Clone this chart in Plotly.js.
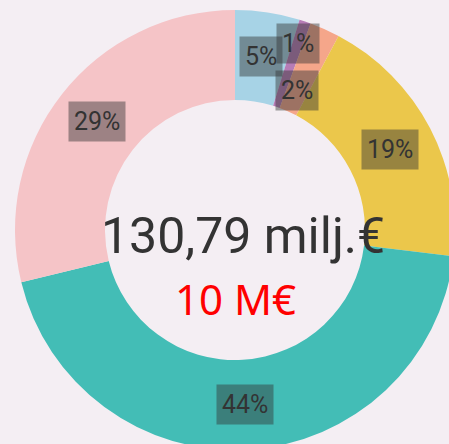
<!DOCTYPE html>
<html>
<head>
<meta charset="utf-8">
<script src="https://cdn.plot.ly/plotly-3.0.1.min.js"></script>
<style>
html,body{margin:0;padding:0;overflow:hidden;background:#f4eef3;}
#chart{width:470px;height:470px;}
</style>
</head>
<body>
<div id="chart"></div>
<script>
// Data (values in milj.€)
const categories = ['A', 'B', 'C', 'D', 'E', 'F'];
const values = [6.2, 1.1, 2.9, 25.0, 57.9, 37.69];
const sliceColors = ['#a7d3e6', '#b67cb6', '#f5a68a', '#ebc74b', '#43bdb6', '#f5c4c7'];
const totalLabel = '130,79 milj.€';
const subLabel = '10 M€';

const W = 470, H = 470;
const cx = 235, cy = 230, R = 220, r = 130;
const labelShift = [0, 22, -22, 0, 0, 0]; // radial nudges to avoid overlap

const total = values.reduce((a, b) => a + b, 0);
const annotations = [];
let cum = 0;
values.forEach((v, i) => {
  const mid = (cum + v / 2) / total * 2 * Math.PI;
  cum += v;
  const rad = (R + r) / 2 + labelShift[i];
  const px = cx + rad * Math.sin(mid);
  const py = cy - rad * Math.cos(mid);
  annotations.push({
    x: px / W, y: 1 - py / H, xref: 'paper', yref: 'paper',
    text: Math.round(v / total * 100) + '%', showarrow: false,
    font: {family: 'Roboto', size: 25, color: '#333333'},
    bgcolor: 'rgba(50,50,50,0.45)', borderpad: 5,
    xanchor: 'center', yanchor: 'middle'
  });
});
annotations.push({
  x: 243 / W, y: 1 - 236 / H, xref: 'paper', yref: 'paper', showarrow: false,
  text: totalLabel, font: {family: 'Roboto', size: 50, color: '#333333'},
  xanchor: 'center', yanchor: 'middle'
});
annotations.push({
  x: 236 / W, y: 1 - 298 / H, xref: 'paper', yref: 'paper', showarrow: false,
  text: subLabel, font: {family: 'Noto Sans', size: 42, color: '#ff0000'},
  xanchor: 'center', yanchor: 'middle'
});

Plotly.newPlot('chart', [{
  type: 'pie',
  labels: categories,
  values: values,
  hole: r / R,
  sort: false,
  direction: 'clockwise',
  rotation: 0,
  marker: {colors: sliceColors, line: {width: 0}},
  textinfo: 'none',
  hoverinfo: 'none',
  domain: {x: [(cx - R) / W, (cx + R) / W], y: [1 - (cy + R) / H, 1 - (cy - R) / H]}
}], {
  width: W, height: H,
  margin: {l: 0, r: 0, t: 0, b: 0},
  paper_bgcolor: '#f4eef3',
  plot_bgcolor: '#f4eef3',
  showlegend: false,
  annotations: annotations
}, {displayModeBar: false, staticPlot: true});
</script>
</body>
</html>
